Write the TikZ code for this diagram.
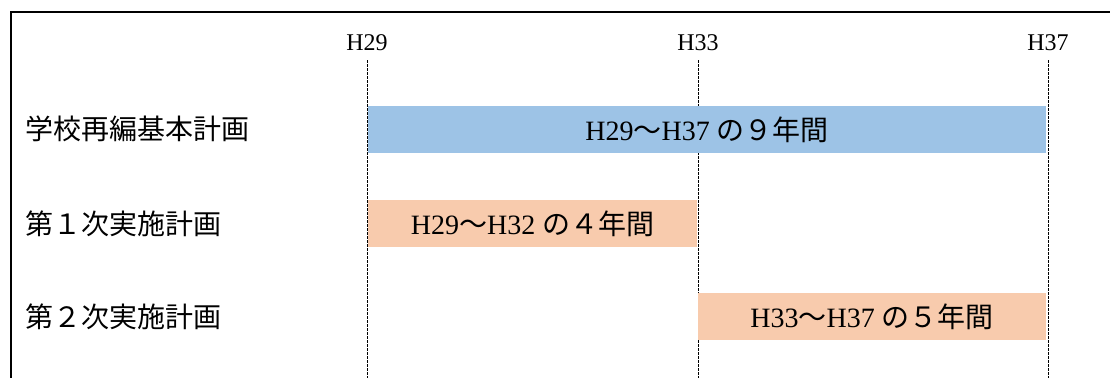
\documentclass[tikz,border=0pt]{standalone}
\usepackage{fontspec}
\setmainfont{Liberation Serif}
\newfontfamily\cjk{Noto Sans CJK JP}
\newcommand{\J}[1]{{\cjk #1}}
\definecolor{barblue}{HTML}{9DC3E6}
\definecolor{barorange}{HTML}{F8CBAD}
\begin{document}
\begin{tikzpicture}[x=1bp,y=-1bp,
  bar/.style={inner sep=0pt,minimum height=47bp,anchor=north west,font=\fontsize{28bp}{30bp}\selectfont},
  rowlabel/.style={anchor=west,inner sep=0pt,font=\fontsize{28bp}{30bp}\selectfont\cjk},
  yearlabel/.style={anchor=base,inner sep=0pt,font=\fontsize{24bp}{26bp}\selectfont},
  guide/.style={line width=0.8bp,dash pattern=on 2.5bp off 1.5bp},
  frame/.style={line width=1.4bp}]
\useasboundingbox (0,0) rectangle (1110,378);
% frame
\coordinate (ftl) at (11,12);
\coordinate (ftr) at (1110,12);
\coordinate (fbl) at (11,378);
\draw[frame] (ftr) -- (ftl) -- (fbl);
% year labels
\node[yearlabel] (y29) at (367,50) {H29};
\node[yearlabel] (y33) at (698,50) {H33};
\node[yearlabel] (y37) at (1048,50) {H37};
% guides (behind bars)
\coordinate (g29a) at (367,60); \coordinate (g29b) at (367,378);
\coordinate (g33a) at (698,60); \coordinate (g33b) at (698,378);
\coordinate (g37a) at (1048,60); \coordinate (g37b) at (1048,378);
\draw[guide] (g29a) -- (g29b);
\draw[guide] (g33a) -- (g33b);
\draw[guide] (g37a) -- (g37b);
% bars
\node[bar,fill=barblue,minimum width=678bp] (b1) at (368,106) {H29\J{〜}H37 \J{の９年間}};
\node[bar,fill=barorange,minimum width=329bp] (b2) at (368,200) {H29\J{〜}H32 \J{の４年間}};
\node[bar,fill=barorange,minimum width=348bp] (b3) at (698,293) {H33\J{〜}H37 \J{の５年間}};
% row labels
\node[rowlabel] (r1) at (25,129) {学校再編基本計画};
\node[rowlabel] (r2) at (25,223.5) {第１次実施計画};
\node[rowlabel] (r3) at (25,316.5) {第２次実施計画};
\end{tikzpicture}
\end{document}
